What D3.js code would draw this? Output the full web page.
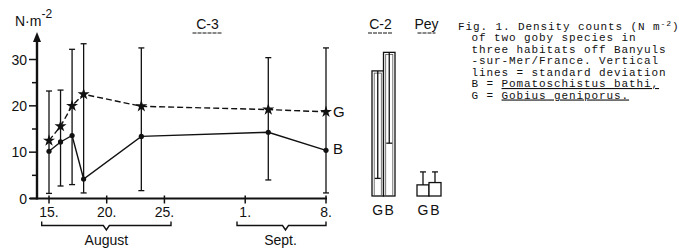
<!DOCTYPE html>
<html><head><meta charset="utf-8">
<script src="https://cdn.jsdelivr.net/npm/d3@7/dist/d3.min.js"></script>
<style>
html,body{margin:0;padding:0;background:#fff;}
svg text{font-family:"Liberation Sans",Arial,sans-serif;fill:#111;}
.cap{font-family:"Liberation Mono","DejaVu Sans Mono",monospace;font-size:11px;letter-spacing:0.9px;}
</style></head>
<body>
<svg id="c" width="679" height="249"></svg>
<script>
// ---- data ----
const dates = ["1980-08-15","1980-08-16","1980-08-17","1980-08-18","1980-08-23","1980-09-03","1980-09-08"];
const gMean  = [12.5, 15.6, 20.0, 22.5, 19.9, 19.2, 18.7];
const gUpper = [23.2, 23.4, 32.2, 33.4, 32.5, 30.4, 32.5];
const bMean  = [10.2, 12.2, 13.6, 4.2, 13.4, 14.3, 10.4];
const bLower = [1.1, 2.7, 3.0, 1.2, 1.7, 4.0, 1.2];
const yTicks = [0, 10, 20, 30];
const yMinor = [5, 15, 25];
const xTickDates = ["1980-08-15","1980-08-20","1980-08-25","1980-09-01","1980-09-08"];
const xTickLabels = ["15.","20.","25.","1.","8."];
const months = ["August","Sept."];
const barSpecies = ["G","B"];
const c2Mean  = [27.0, 31.0];
const c2Lower = [3.8, 11.4];
const peyMean  = [2.4, 2.9];
const peyUpper = [5.2, 5.2];
const caption = ["Fig. 1. Density counts (N m","of two goby species in","three habitats off Banyuls","-sur-Mer/France. Vertical","lines = standard deviation"];

const svg = d3.select("#c");
const parse = d3.timeParse("%Y-%m-%d");
const x = d3.scaleTime().domain([parse("1980-08-15"), parse("1980-09-08")]).range([49, 326]);
const y = d3.scaleLinear().domain([0, 30]).range([198.5, 59.5]);
const black = "#111";

// axes
svg.append("line").attr("x1",37).attr("x2",37).attr("y1",y(0)+1).attr("y2",40).attr("stroke",black).attr("stroke-width",2.4);
svg.append("path").attr("d","M37,32 L33,42 L41,42 Z").attr("fill",black);
svg.append("line").attr("x1",30).attr("x2",327).attr("y1",y(0)).attr("y2",y(0)).attr("stroke",black).attr("stroke-width",2);
yTicks.forEach(t=>{
  svg.append("line").attr("x1",29).attr("x2",37).attr("y1",y(t)).attr("y2",y(t)).attr("stroke",black).attr("stroke-width",1.5);
  svg.append("text").attr("x",27).attr("y",y(t)+5).attr("text-anchor","end").attr("font-size",14).text(t);
});
yMinor.forEach(t=>{
  svg.append("line").attr("x1",32).attr("x2",37).attr("y1",y(t)).attr("y2",y(t)).attr("stroke",black).attr("stroke-width",1.5);
});
xTickDates.forEach((d,i)=>{
  const xx = x(parse(d));
  svg.append("line").attr("x1",xx).attr("x2",xx).attr("y1",y(0)-3).attr("y2",y(0)+5).attr("stroke",black).attr("stroke-width",1.5);
  svg.append("text").attr("x",xx).attr("y",217).attr("text-anchor","middle").attr("font-size",14).text(xTickLabels[i]);
});
// y label
const yl = svg.append("text").attr("x",15).attr("y",26).attr("font-size",14);
yl.append("tspan").text("N·m");
yl.append("tspan").attr("dy",-8).attr("font-size",12).text("-2");

// month brackets
const brackets = [[41.7,171],[237,326]];
brackets.forEach((b,i)=>{
  const [x0,x1] = b; const cx = (x0+x1)/2 + (i===1?4:0);
  svg.append("path").attr("d",`M${x0},221.5 L${x0},225.5 L${cx-3},225.5 L${cx},230 L${cx+3},225.5 L${x1},225.5 L${x1},221.5`)
    .attr("fill","none").attr("stroke",black).attr("stroke-width",1.4);
  svg.append("text").attr("x",(x0+x1)/2 + (i===1?-1:0)).attr("y",245).attr("text-anchor","middle").attr("font-size",14).text(months[i]);
});

// error bars
const capW = 3;
dates.forEach((d,i)=>{
  const xx = x(parse(d));
  svg.append("line").attr("x1",xx).attr("x2",xx).attr("y1",y(gUpper[i])).attr("y2",y(bLower[i])).attr("stroke",black).attr("stroke-width",1.3);
  [gUpper[i], bLower[i]].forEach(v=>{
    svg.append("line").attr("x1",xx-capW).attr("x2",xx+capW).attr("y1",y(v)).attr("y2",y(v)).attr("stroke",black).attr("stroke-width",1.3);
  });
});

// lines
const lineG = d3.line().x((d,i)=>x(parse(dates[i]))).y(d=>y(d));
svg.append("path").datum(gMean).attr("d",lineG).attr("fill","none").attr("stroke",black).attr("stroke-width",1.4).attr("stroke-dasharray","6,3");
svg.append("path").datum(bMean).attr("d",lineG).attr("fill","none").attr("stroke",black).attr("stroke-width",1.4);
gMean.forEach((v,i)=>{
  svg.append("path").attr("d",d3.symbol(d3.symbolStar,45)()).attr("transform",`translate(${x(parse(dates[i]))},${y(v)})`).attr("fill",black);
});
bMean.forEach((v,i)=>{
  svg.append("circle").attr("cx",x(parse(dates[i]))).attr("cy",y(v)).attr("r",2.6).attr("fill",black);
});
svg.append("text").attr("x",333).attr("y",117).attr("font-size",15).text("G");
svg.append("text").attr("x",333).attr("y",154).attr("font-size",15).text("B");

// titles
function title(t, cx, w){
  svg.append("text").attr("x",cx).attr("y",29).attr("text-anchor","middle").attr("font-size",14).text(t);
  svg.append("line").attr("x1",cx-w/2).attr("x2",cx+w/2).attr("y1",33).attr("y2",33).attr("stroke",black).attr("stroke-width",1).attr("stroke-dasharray","4,1");
}
title("C-3", 207.5, 30);
title("C-2", 380.5, 25);
title("Pey", 426.5, 18);

// bar panels
const yb = d3.scaleLinear().domain([0,30]).range([196, 57]);
function barPanel(x0, x1, means, errs, doubleLine){
  const bx = d3.scaleBand().domain(barSpecies).range([x0,x1]);
  barSpecies.forEach((s,i)=>{
    const bxl = bx(s), w = bx.bandwidth();
    svg.append("rect").attr("x",bxl).attr("y",yb(means[i])).attr("width",w).attr("height",yb(0)-yb(means[i]))
      .attr("fill","#fff").attr("stroke",black).attr("stroke-width",1.3);
    if (doubleLine) {
      svg.append("rect").attr("x",bxl+2.2).attr("y",yb(means[i])+2.2).attr("width",w-4.4).attr("height",yb(0)-yb(means[i])-2.2)
        .attr("fill","none").attr("stroke","#555").attr("stroke-width",0.8);
    }
    const cx = bxl + w/2;
    svg.append("line").attr("x1",cx).attr("x2",cx).attr("y1",yb(means[i])).attr("y2",yb(errs[i])).attr("stroke",black).attr("stroke-width",1.3);
    svg.append("line").attr("x1",cx-capW).attr("x2",cx+capW).attr("y1",yb(errs[i])).attr("y2",yb(errs[i])).attr("stroke",black).attr("stroke-width",1.3);
    svg.append("text").attr("x",cx).attr("y",215).attr("text-anchor","middle").attr("font-size",14).text(s);
  });
}
barPanel(372, 395, c2Mean, c2Lower, true);
barPanel(417, 441, peyMean, peyUpper, false);

// caption
const cap = svg.append("g");
const lineYs = [29.5, 41, 52.5, 64, 75.5, 87, 98.5];
const t0 = cap.append("text").attr("class","cap").attr("x",458).attr("y",lineYs[0]);
t0.append("tspan").text(caption[0]);
t0.append("tspan").attr("dy",-4).attr("font-size",8).text("-2");
t0.append("tspan").attr("dy",4).text(")");
for (let i=1;i<caption.length;i++){
  cap.append("text").attr("class","cap").attr("x",471.5).attr("y",lineYs[i]).text(caption[i]);
}
const t6 = cap.append("text").attr("class","cap").attr("x",471.5).attr("y",lineYs[5]);
t6.append("tspan").text("B = ");
t6.append("tspan").attr("text-decoration","underline").text("Pomatoschistus bathi,");
const t7 = cap.append("text").attr("class","cap").attr("x",471.5).attr("y",lineYs[6]);
t7.append("tspan").text("G = ");
t7.append("tspan").attr("text-decoration","underline").text("Gobius geniporus.");
</script>
</body></html>
